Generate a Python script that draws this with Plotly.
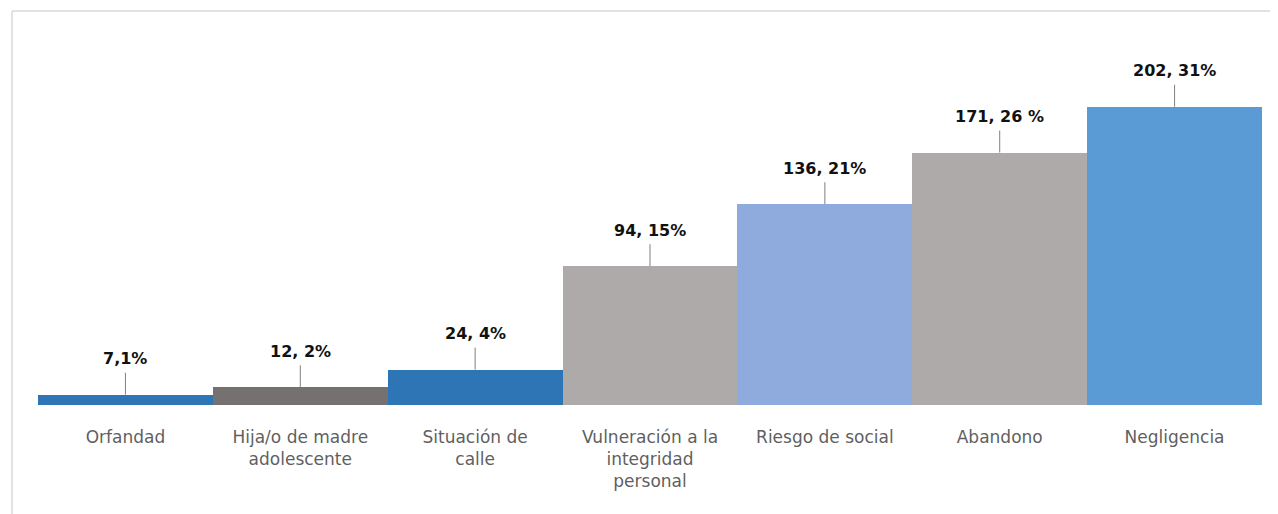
import plotly.graph_objects as go

categories = [
    "Orfandad",
    "Hija/o de madre<br>adolescente",
    "Situación de<br>calle",
    "Vulneración a la<br>integridad<br>personal",
    "Riesgo de social",
    "Abandono",
    "Negligencia",
]
values = [7, 12, 24, 94, 136, 171, 202]
labels = ["7,1%", "12, 2%", "24, 4%", "94, 15%", "136, 21%", "171, 26 %", "202, 31%"]
colors = ["#2E75B6", "#767171", "#2E75B6", "#AEAAAA", "#8FAADC", "#AEAAAA", "#5B9BD5"]

W, H = 1278, 514
OFF = 8  # page body margin
L, R, T, B = 38 - OFF, 16 + OFF, 30 - OFF, 109 + OFF

fig = go.Figure(
    go.Bar(
        x=categories, y=values,
        marker=dict(color=colors, line=dict(width=0)),
        hoverinfo="x+y",
    )
)

# data labels with leader lines
for cat, val, lab in zip(categories, values, labels):
    fig.add_annotation(
        x=cat, y=val, text=f"<b>{lab}</b>",
        showarrow=True, arrowhead=0, arrowwidth=1, arrowcolor="#7f7f7f",
        ax=0, ay=-36, standoff=0, startstandoff=3,
        font=dict(family="DejaVu Sans", size=16, color="#111111"),
    )

# chart border (top and left edges visible)
pw, ph = W - L - R, H - T - B
px = lambda v: (v - OFF - L) / pw
py = lambda v: (H - B - (v - OFF)) / ph
fig.add_shape(type="line", xref="paper", yref="paper",
              x0=px(12), x1=px(W + 20), y0=py(11), y1=py(11),
              line=dict(color="#d9d9d9", width=1.5))
fig.add_shape(type="line", xref="paper", yref="paper",
              x0=px(12), x1=px(12), y0=py(11), y1=py(H + 20),
              line=dict(color="#d9d9d9", width=1.5))

fig.update_layout(
    width=W, height=H,
    margin=dict(l=L, r=R, t=T, b=B),
    plot_bgcolor="white", paper_bgcolor="white",
    bargap=0,
    showlegend=False,
    font=dict(family="DejaVu Sans", size=17, color="#5f5f5f"),
)
fig.update_xaxes(showline=False, showgrid=False, ticks="", tickangle=0,
                 ticklabelstandoff=20,
                 tickfont=dict(family="DejaVu Sans", size=17, color="#5f5f5f"))
fig.update_yaxes(visible=False, range=[0, 254], showgrid=False)

fig.write_html("out.html")
